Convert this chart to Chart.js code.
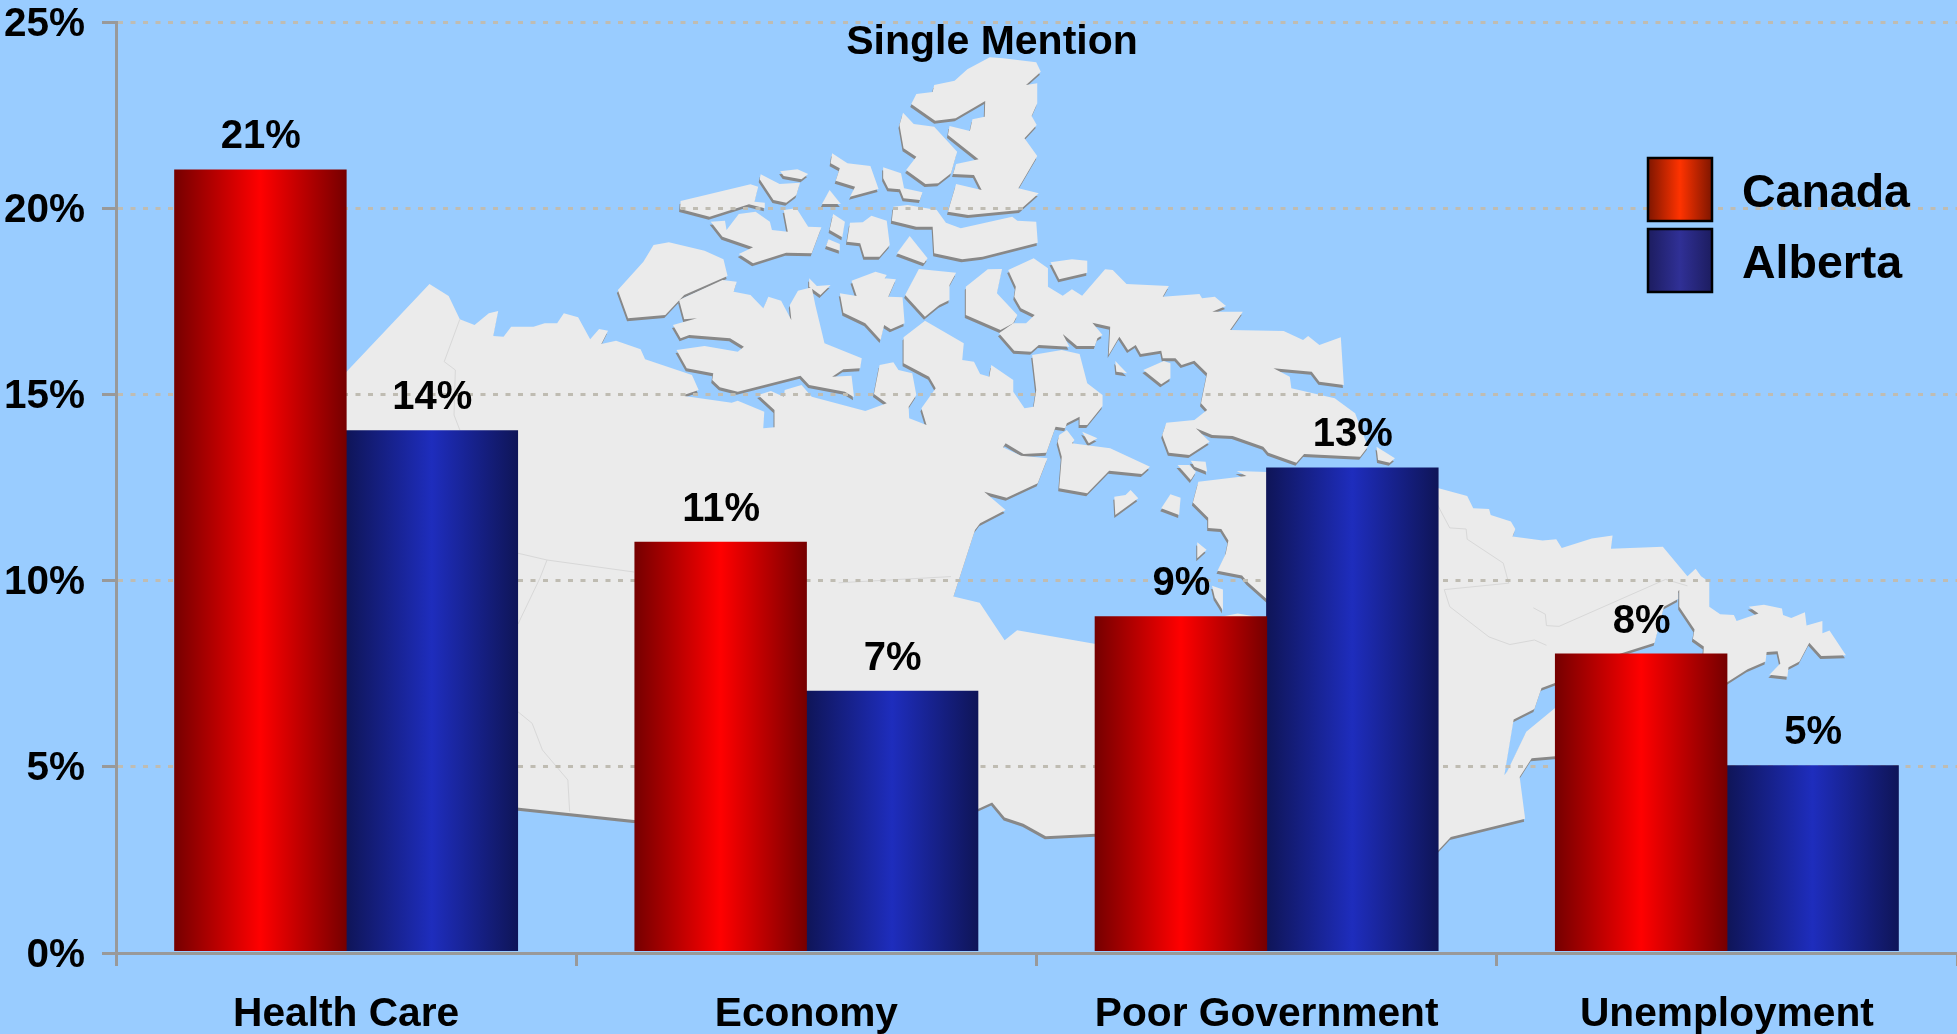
<!DOCTYPE html>
<html>
<head>
<meta charset="utf-8">
<title>Single Mention</title>
<script src="https://cdn.jsdelivr.net/npm/chart.js@4/dist/chart.umd.min.js"></script>
<style>
html, body { margin: 0; padding: 0; background: #99ccff; overflow: hidden; }
canvas { display: block; }
</style>
</head>
<body>
<canvas id="chart" width="1957" height="1034"></canvas>
<script>
const categories = ['Health Care', 'Economy', 'Poor Government', 'Unemployment'];
const canada = [21, 11, 9, 8];
const alberta = [14, 7, 13, 5];
const yTicks = [0, 5, 10, 15, 20, 25];
const chartTitle = 'Single Mention';
const seriesNames = ['Canada', 'Alberta'];

const z1 = p => p.map(a => [a[0] / 2.24, a[1] / 3]);
const z2 = p => p.map(a => [600 + a[0] / 1.96, 30 + a[1] / 3]);
const z3 = p => p.map(a => [1100 + a[0] / 1.83, 440 + a[1] / 2.64]);
const z5 = p => p.map(a => [a[0] / 2.24, 700 + a[1] / 3]);
const rf = p => p.map(a => [a[0] * 1.248, a[1] * 1.248]);

const mainland = [
  ...z1([[962,852],[1005,888],[1030,958],[1063,975],[1095,940],[1116,933],[1105,1008],[1128,1010],[1145,980],[1195,980],[1220,970],[1248,970],[1263,940],[1295,952],[1322,1018],[1342,987],[1362,992],[1347,1032],[1380,1022],[1435,1048],[1445,1078],[1550,1125],[1565,1170],[1532,1185]]),
  ...z2([[165,1098],[258,1118],[270,1112],[322,1145],[320,1195],[342,1192],[342,1140],[310,1095],[335,1083],[360,1100],[362,1080],[395,1065],[415,1100],[520,1143],[562,1120],[537,1092],[548,1005],[575,997],[585,1020],[612,1030],[620,1095],[605,1130],[606,1165],[640,1185],[630,1135],[658,1075],[645,1040],[595,1000],[595,922],[637,872],[713,940],[710,990],[733,995],[745,1032],[763,1040],[767,1005],[810,1050],[810,1085],[832,1135],[850,1130],[855,1080],[847,975],[905,960],[940,972],[955,1060],[985,1095],[985,1128],[955,1185],[940,1185],[940,1160],[915,1180],[912,1195],[893,1190],[875,1268],[830,1272],[795,1240],[790,1252],[825,1277],[877,1285],[858,1360],[797,1403],[753,1385],[795,1440],[745,1480],[735,1500]]),
  ...rf([[764,478],[785,483],[805,513],[815,505],[878,516]]),
  ...z3([[100,500],[252,458],[290,467],[300,520],[320,440],[305,420],[270,375],[260,358],[215,345],[230,300],[235,265],[222,235],[198,232],[198,205],[170,165],[180,110],[268,95],[250,82],[320,85],[618,127],[672,148],[683,180],[712,182],[715,198],[752,215],[760,235],[755,255],[810,265],[835,262],[845,285],[900,260],[938,252],[935,287],[1030,282],[1075,360],[1090,340],[1100,360],[1115,375],[1115,440],[1135,460],[1160,462],[1165,478],[1205,458],[1187,440],[1215,435],[1248,445],[1250,462],[1265,470],[1290,455],[1293,490],[1322,478],[1322,510],[1335,503],[1365,568],[1320,570],[1298,535],[1280,585],[1260,600],[1258,625],[1225,620],[1245,590],[1240,558],[1220,560],[1218,585],[1185,605],[1147,640],[1100,660],[1105,545],[1085,525],[1088,500],[1060,440],[1060,395],[1074,364],[1058,400],[1058,420],[1032,440],[1015,535],[950,565],[900,600],[835,640],[808,655],[795,710],[757,738],[740,885],[745,875],[780,770],[835,705],[900,700],[900,830],[833,835],[790,840],[768,890],[778,1000],[642,1048],[618,1085],[560,1100]]),
  ...rf([[878,668],[838,670],[820,660],[805,655],[795,643],[784,648],[700,660],[508,657],[414,647],[200,640],[200,380]])
];

const islands = [
  z2([[764,82],[790,85],[855,97],[864,125],[835,165],[857,160],[857,220],[846,258],[856,285],[832,325],[857,378],[820,475],[860,490],[823,540],[722,555],[682,545],[698,462],[748,480],[733,435],[692,432],[698,402],[742,388],[682,315],[685,288],[725,303],[730,268],[754,260],[755,213],[697,265],[657,272],[610,222],[620,192],[652,186],[655,165],[695,152],[720,118]]),
  z2([[594,248],[615,282],[655,290],[700,365],[688,430],[663,460],[638,462],[600,420],[620,380],[595,355],[587,285]]),
  z2([[555,412],[590,430],[596,475],[632,487],[627,510],[595,505],[588,478],[565,475],[555,445]]),
  z2([[455,370],[485,400],[530,408],[546,477],[490,500],[500,470],[462,452],[470,415],[452,400]]),
  z2([[315,433],[352,462],[392,458],[385,495],[365,518],[340,510],[313,448]]),
  z2([[353,424],[387,418],[408,432],[395,448],[360,438]]),
  z2([[450,480],[472,522],[435,522]]),
  z2([[158,513],[295,463],[310,470],[303,515],[323,518],[323,535],[292,523],[215,560],[157,537]]),
  z2([[217,575],[245,572],[248,600],[272,552],[305,545],[333,575],[337,600],[368,605],[360,540],[385,535],[408,590],[434,592],[415,670],[365,668],[300,700],[272,672],[300,652],[240,620]]),
  z2([[457,552],[480,575],[475,622],[450,600]]),
  z2([[448,628],[470,642],[470,662],[443,648]]),
  z2([[490,578],[515,577],[532,557],[562,572],[568,645],[548,680],[518,680],[510,640],[484,635]]),
  z2([[607,618],[642,685],[635,700],[582,670]]),
  z2([[575,530],[603,525],[660,540],[678,578],[707,595],[808,560],[818,572],[855,575],[858,638],[750,680],[710,688],[655,670],[652,590],[620,590],[572,572]]),
  z2([[105,645],[135,637],[205,662],[242,688],[250,738],[165,795],[128,855],[55,865],[35,780],[85,695]]),
  z2([[155,810],[240,750],[268,755],[262,785],[295,795],[320,835],[330,800],[355,812],[375,870],[372,825],[388,782],[415,772],[422,825],[440,940],[513,985],[510,1015],[477,1018],[455,1040],[493,1037],[498,1102],[480,1085],[410,1065],[393,1037],[270,1085],[235,1072],[220,1050],[222,1030],[170,1015],[150,960],[205,948],[270,965],[282,950],[255,925],[175,915],[158,925],[143,885],[190,865],[165,868]]),
  z2([[410,745],[425,768],[452,765],[432,795],[410,770]]),
  z2([[493,752],[540,725],[562,735],[558,745],[580,748],[565,800],[593,802],[597,880],[570,898],[557,885],[550,930],[520,880],[477,848],[470,790],[503,798]]),
  z2([[625,717],[698,728],[685,765],[685,810],[665,825],[637,860],[598,795]]),
  z2([[760,718],[788,717],[778,790],[818,855],[810,880],[785,900],[717,855],[717,770]]),
  z2([[800,720],[850,685],[878,715],[878,770],[907,797],[925,778],[945,797],[990,718],[1005,720],[1032,762],[1115,768],[1103,800],[1175,792],[1180,805],[1205,800],[1227,828],[1200,845],[1260,845],[1235,900],[1340,903],[1378,930],[1388,918],[1410,945],[1452,922],[1458,1065],[1410,1055],[1395,1025],[1320,1015],[1352,1040],[1355,1075],[1440,1105],[1480,1150],[1505,1250],[1490,1280],[1380,1272],[1365,1298],[1310,1268],[1300,1250],[1240,1218],[1200,1215],[1168,1195],[1195,1235],[1155,1275],[1115,1268],[1102,1215],[1110,1178],[1165,1170],[1190,1140],[1178,1120],[1190,1030],[1165,992],[1140,1005],[1128,985],[1103,985],[1100,962],[1060,972],[1050,945],[1035,960],[1018,920],[997,975],[1000,890],[965,878],[985,915],[975,925],[970,948],[935,948],[907,912],[920,950],[860,945],[845,965],[812,962],[782,910],[810,880],[835,880],[852,855],[825,835],[812,800],[815,770]]),
  z2([[883,697],[925,688],[955,692],[955,728],[900,748]]),
  z2([[1010,993],[1033,1030],[1012,1025]]),
  z2([[1065,1020],[1105,993],[1118,1000],[1118,1045],[1100,1063]]),
  z2([[900,1215],[915,1200],[930,1230],[925,1240],[1000,1255],[1078,1310],[1062,1332],[998,1322],[955,1390],[900,1375],[905,1280],[897,1235]]),
  z2([[945,1205],[975,1225],[958,1240]]),
  z2([[1132,1305],[1155,1305],[1168,1325],[1158,1350]]),
  z2([[1158,1292],[1187,1295],[1190,1325],[1165,1310]]),
  z2([[1008,1400],[1030,1395],[1040,1380],[1055,1405],[1010,1455]]),
  z2([[1118,1393],[1138,1403],[1135,1455],[1100,1435]]),
  z2([[1522,1250],[1558,1285],[1548,1298],[1525,1290]]),
  z3([[178,270],[195,290],[178,312]]),
  z3([[205,385],[225,395],[225,450],[210,415]])
];

const borders = [
  z1([[1030,958],[995,1085],[1020,1110],[1017,1245],[1030,1290]]),
  z5([[1160,35],[1192,70],[1215,150],[1272,240],[1276,335]]),
  z3([[618,172],[640,232],[670,235],[672,262],[738,325],[748,378],[630,395],[640,440],[712,520],[750,540],[795,528],[817,542]]),
  z3([[793,443],[815,460],[817,490],[840,492],[1035,368],[1075,385]]),
  [[517,553],[547,560],[634,572]],
  [[547,560],[540,578],[518,624]],
  rf([[672,467],[762,462]])
];

function tracePath(ctx, pts, dx, dy) {
  ctx.beginPath();
  pts.forEach((p, i) => {
    if (i === 0) ctx.moveTo(p[0] + dx, p[1] + dy);
    else ctx.lineTo(p[0] + dx, p[1] + dy);
  });
  ctx.closePath();
}

const mapPlugin = {
  id: 'mapBackground',
  beforeDraw(chart) {
    const ctx = chart.ctx;
    ctx.save();
    ctx.fillStyle = '#99ccff';
    ctx.fillRect(0, 0, chart.width, chart.height);
    const parts = [mainland].concat(islands);
    ctx.fillStyle = '#888888';
    parts.forEach(pts => { tracePath(ctx, pts, -1, 3); ctx.fill(); });
    ctx.fillStyle = '#ebebeb';
    parts.forEach(pts => { tracePath(ctx, pts, 0, 0); ctx.fill(); });
    ctx.strokeStyle = '#d8d8d8';
    ctx.lineWidth = 1;
    borders.forEach(pts => {
      ctx.beginPath();
      pts.forEach((p, i) => { if (i === 0) ctx.moveTo(p[0], p[1]); else ctx.lineTo(p[0], p[1]); });
      ctx.stroke();
    });
    ctx.restore();
  }
};

// bars sit a touch above the axis line in the original
const liftPlugin = {
  id: 'barLift',
  afterLayout(chart) {
    // y labels hang a little lower than the em-box middle
    chart.scales.y.getLabelItems().forEach(item => { item.options.translation[1] += 2.5; });
  },
  beforeDatasetsDraw(chart) {
    chart.ctx.save();
    chart.ctx.translate(0, -1);
  },
  afterDatasetsDraw(chart) {
    chart.ctx.restore();
  }
};

const textPlugin = {
  id: 'chartText',
  afterDraw(chart) {
    const ctx = chart.ctx;
    ctx.save();
    ctx.fillStyle = '#000000';

    // values over the bars
    ctx.font = 'bold 40px "Liberation Sans"';
    ctx.textAlign = 'center';
    ctx.textBaseline = 'alphabetic';
    chart.data.datasets.forEach((ds, d) => {
      chart.getDatasetMeta(d).data.forEach((bar, i) => {
        ctx.fillText(ds.data[i] + '%', bar.x + 0.5, bar.y - 22.5);
      });
    });

    ctx.font = 'bold 41px "Liberation Sans"';
    ctx.fillText(chartTitle, 992, 54);

    // legend
    const boxes = [[157, '#7a1500', '#ff3300'], [228, '#1c1c5e', '#303096']];
    boxes.forEach((b, i) => {
      const g = ctx.createLinearGradient(1647, 0, 1713, 0);
      g.addColorStop(0, b[1]);
      g.addColorStop(0.5, b[2]);
      g.addColorStop(1, b[1]);
      ctx.fillStyle = g;
      ctx.fillRect(1648, b[0] + 1, 64, 63);
      ctx.strokeStyle = '#000000';
      ctx.lineWidth = 2.5;
      ctx.strokeRect(1648, b[0] + 1, 64, 63);
      ctx.fillStyle = '#000000';
      ctx.font = 'bold 46.5px "Liberation Sans"';
      ctx.textAlign = 'left';
      ctx.fillText(seriesNames[i], 1742, b[0] + 50);
    });
    ctx.restore();
  }
};

const groupShare = 0.745;

function barFill(edge, mid, side) {
  return c => {
    const x = c.chart.scales.x;
    if (!x) return mid;
    const center = x.getPixelForValue(c.dataIndex);
    const half = x.width / categories.length * groupShare / 2;
    if (!isFinite(center) || !isFinite(half)) return mid;
    const from = side === 0 ? center - half : center;
    const g = c.chart.ctx.createLinearGradient(from, 0, from + half, 0);
    g.addColorStop(0, edge);
    g.addColorStop(0.5, mid);
    g.addColorStop(1, edge);
    return g;
  };
}

new Chart(document.getElementById('chart'), {
  type: 'bar',
  data: {
    labels: categories,
    datasets: [
      { label: seriesNames[0], data: canada, backgroundColor: barFill('#760000', '#ff0000', 0) },
      { label: seriesNames[1], data: alberta, backgroundColor: barFill('#0f1558', '#1e2dbd', 1) }
    ]
  },
  options: {
    responsive: false,
    animation: false,
    layout: { padding: { top: 22, right: 0, left: 0, bottom: 0 } },
    datasets: { bar: { categoryPercentage: groupShare, barPercentage: 1, borderWidth: 0, inflateAmount: 0.5 } },
    plugins: { legend: { display: false }, title: { display: false }, tooltip: { enabled: false } },
    scales: {
      x: {
        afterFit: s => { s.height = 81; s.paddingLeft = 0; s.paddingRight = 0; },
        grid: { drawOnChartArea: false, color: '#999999', lineWidth: 3, tickLength: 13 },
        border: { color: '#999999', width: 3 },
        ticks: {
          color: '#000000', font: { family: '"Liberation Sans"', size: 40.7, weight: 'bold' },
          padding: 24, maxRotation: 0, autoSkip: false
        }
      },
      y: {
        min: 0, max: 25,
        afterFit: s => { s.width = 116; s.paddingTop = 0; s.paddingBottom = 0; },
        afterBuildTicks: s => { s.ticks = yTicks.map(v => ({ value: v })); },
        grid: {
          color: '#bfbcb2', lineWidth: 3,
          tickColor: '#999999', tickBorderDash: [], tickWidth: 3, tickLength: 14
        },
        border: { color: '#999999', width: 3, dash: [5, 7.5] },
        ticks: {
          color: '#000000', font: { family: '"Liberation Sans"', size: 40.5, weight: 'bold' },
          padding: 17, callback: v => v + '%'
        }
      }
    }
  },
  plugins: [mapPlugin, liftPlugin, textPlugin]
});
</script>
</body>
</html>
